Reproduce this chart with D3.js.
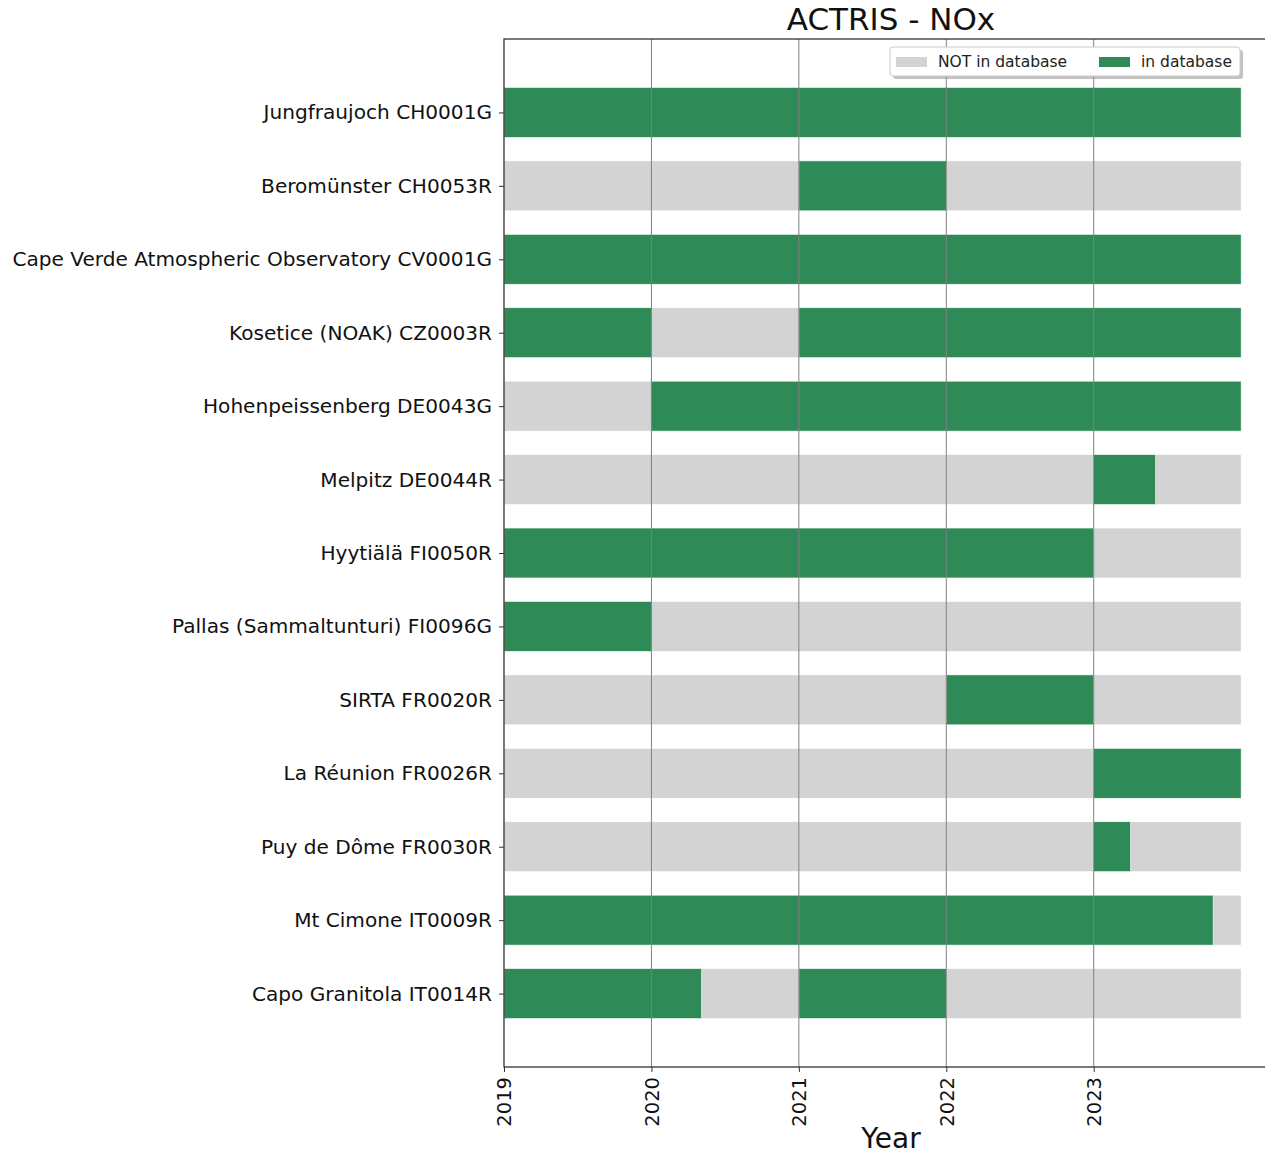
<!DOCTYPE html>
<html>
<head>
<meta charset="utf-8">
<script src="https://cdn.jsdelivr.net/npm/d3@7"></script>
<style>
  body { margin: 0; background: #fff; }
  svg { font-family: 'DejaVu Sans', sans-serif; display: block; }
</style>
</head>
<body>
<div id="chart"></div>
<script>
// stations, top to bottom
const stations = [
  'Jungfraujoch CH0001G',
  'Beromünster CH0053R',
  'Cape Verde Atmospheric Observatory CV0001G',
  'Kosetice (NOAK) CZ0003R',
  'Hohenpeissenberg DE0043G',
  'Melpitz DE0044R',
  'Hyytiälä FI0050R',
  'Pallas (Sammaltunturi) FI0096G',
  'SIRTA FR0020R',
  'La Réunion FR0026R',
  'Puy de Dôme FR0030R',
  'Mt Cimone IT0009R',
  'Capo Granitola IT0014R',
];

// periods (decimal year) found in the database, one list per station
const inDatabase = [
  [[2019, 2024]],
  [[2021, 2022]],
  [[2019, 2024]],
  [[2019, 2020], [2021, 2024]],
  [[2020, 2024]],
  [[2023, 2023.42]],
  [[2019, 2023]],
  [[2019, 2020]],
  [[2022, 2023]],
  [[2023, 2024]],
  [[2023, 2023.25]],
  [[2019, 2023.81]],
  [[2019, 2020.34], [2021, 2022]],
];

const periodStart = 2019;
const periodEnd = 2024;
const yearTicks = [2019, 2020, 2021, 2022, 2023];

const width = 1265, height = 1156;
const plot = { left: 504, right: 1278, top: 39, bottom: 1067 };
const FONT = "'DejaVu Sans', sans-serif";

const GREEN = '#2e8b57';
const GREY = '#d3d3d3';

const svg = d3.select('#chart').append('svg')
  .attr('width', width)
  .attr('height', height)
  .attr('font-family', FONT);

const x = d3.scaleLinear().domain([2019, 2024.25]).range([plot.left, plot.right]);
const y = d3.scaleLinear().domain([-1, stations.length]).range([plot.top, plot.bottom]);
const barH = (y(1) - y(0)) * 0.68;

const rows = svg.append('g')
  .selectAll('g')
  .data(stations)
  .join('g');

// NOT in database background
rows.append('rect')
  .attr('x', x(periodStart))
  .attr('width', x(periodEnd) - x(periodStart))
  .attr('y', (d, i) => y(i) - barH / 2)
  .attr('height', barH)
  .attr('fill', GREY)
  .attr('stroke', '#fff')
  .attr('stroke-width', 0.6);

// in database segments
rows.selectAll('rect.in')
  .data((d, i) => inDatabase[i].map(p => ({ p, i })))
  .join('rect')
  .attr('class', 'in')
  .attr('x', d => x(d.p[0]))
  .attr('width', d => x(d.p[1]) - x(d.p[0]))
  .attr('y', d => y(d.i) - barH / 2)
  .attr('height', barH)
  .attr('fill', GREEN)
  .attr('stroke', '#fff')
  .attr('stroke-width', 0.6);

// vertical grid on top of bars
svg.append('g')
  .selectAll('line')
  .data(yearTicks.slice(1))
  .join('line')
  .attr('x1', d => x(d)).attr('x2', d => x(d))
  .attr('y1', plot.top).attr('y2', plot.bottom)
  .attr('stroke', '#808080')
  .attr('stroke-width', 1);

// x axis
const xAxis = svg.append('g')
  .attr('transform', `translate(0,${plot.bottom})`)
  .call(d3.axisBottom(x).tickValues(yearTicks).tickFormat(d3.format('d')).tickSize(5).tickSizeOuter(0))
  .attr('font-family', FONT);
xAxis.select('.domain').remove();
xAxis.selectAll('.tick line').attr('stroke', '#333');
xAxis.selectAll('.tick text')
  .attr('font-size', 19.5)
  .attr('fill', '#111')
  .attr('transform', 'rotate(-90)')
  .attr('text-anchor', 'end')
  .attr('x', -10)
  .attr('y', 0)
  .attr('dy', '0.35em');

// y axis
const yAxis = svg.append('g')
  .attr('transform', `translate(${plot.left},0)`)
  .call(d3.axisLeft(y).tickValues(d3.range(stations.length)).tickFormat(i => stations[i]).tickSize(5).tickSizeOuter(0))
  .attr('font-family', FONT);
yAxis.select('.domain').remove();
yAxis.selectAll('.tick line').attr('stroke', '#333');
yAxis.selectAll('.tick text')
  .attr('font-size', 20.1)
  .attr('fill', '#111')
  .attr('x', -12);

// spines
svg.append('rect')
  .attr('x', plot.left).attr('y', plot.top)
  .attr('width', plot.right - plot.left).attr('height', plot.bottom - plot.top)
  .attr('fill', 'none')
  .attr('stroke', '#333')
  .attr('stroke-width', 1.3);

// title & x label
const cx = (plot.left + plot.right) / 2;
svg.append('text')
  .attr('x', cx).attr('y', 30)
  .attr('text-anchor', 'middle')
  .attr('font-size', 31)
  .attr('fill', '#111')
  .text('ACTRIS - NOx');

svg.append('text')
  .attr('x', cx).attr('y', 1148)
  .attr('text-anchor', 'middle')
  .attr('font-size', 28)
  .attr('fill', '#111')
  .text('Year');

// legend
const legendItems = [
  { label: 'NOT in database', color: GREY, x: 896 },
  { label: 'in database', color: GREEN, x: 1099 },
];
const lg = svg.append('g');
lg.append('rect')
  .attr('x', 893).attr('y', 50)
  .attr('width', 350).attr('height', 29)
  .attr('rx', 3)
  .attr('fill', '#999')
  .attr('opacity', 0.6);
lg.append('rect')
  .attr('x', 890).attr('y', 47)
  .attr('width', 350).attr('height', 29)
  .attr('rx', 3)
  .attr('fill', '#fff')
  .attr('stroke', '#ccc');
const li = lg.selectAll('g.item')
  .data(legendItems)
  .join('g')
  .attr('class', 'item');
li.append('rect')
  .attr('x', d => d.x).attr('y', 57)
  .attr('width', 31).attr('height', 10)
  .attr('fill', d => d.color);
li.append('text')
  .attr('x', d => d.x + 42).attr('y', 62)
  .attr('dy', '0.35em')
  .attr('font-size', 15.5)
  .attr('fill', '#222')
  .text(d => d.label);
</script>
</body>
</html>
